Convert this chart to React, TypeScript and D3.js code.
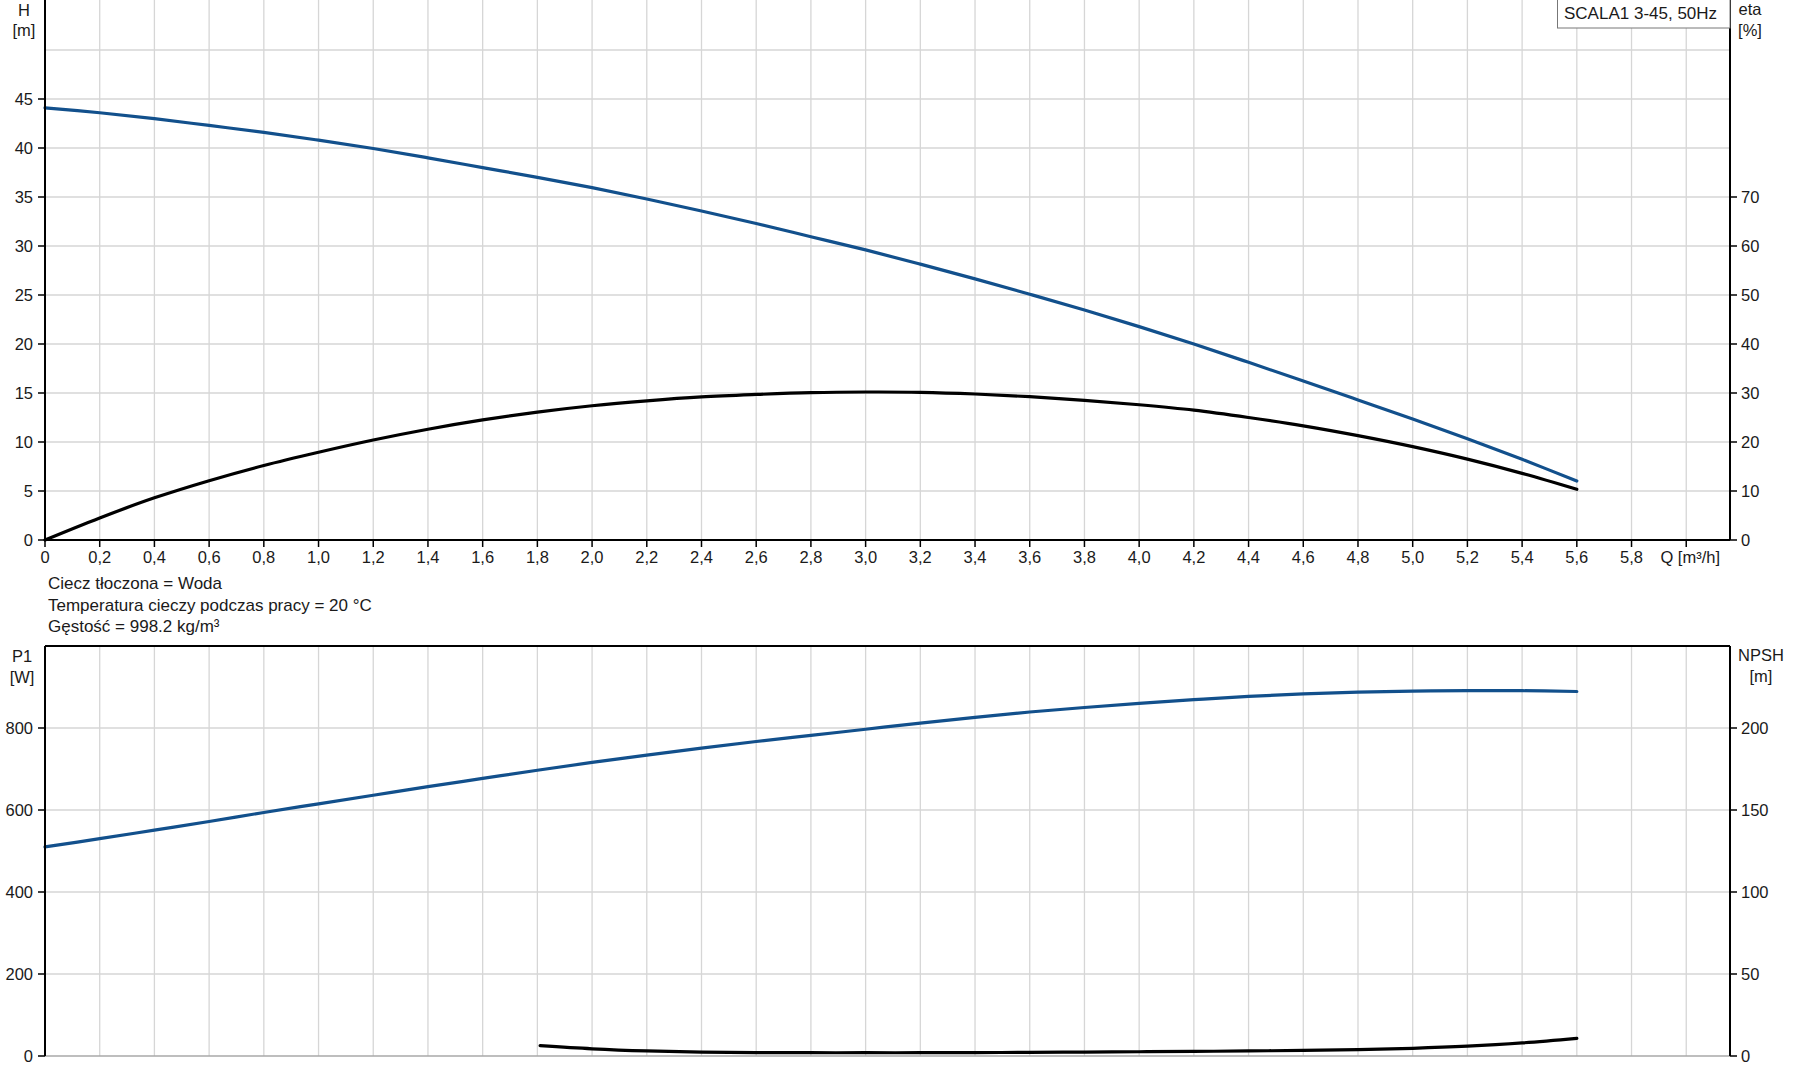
import React from "react";
import * as d3 from "d3";

// ---------- data ----------
const flowQ = [0, 0.2, 0.4, 0.6, 0.8, 1.0, 1.2, 1.4, 1.6, 1.8, 2.0, 2.2, 2.4, 2.6, 2.8, 3.0, 3.2, 3.4, 3.6, 3.8, 4.0, 4.2, 4.4, 4.6, 4.8, 5.0, 5.2, 5.4, 5.6];
const headH = [44.1, 43.6, 43.0, 42.3, 41.6, 40.8, 39.95, 39.0, 38.0, 37.0, 35.95, 34.8, 33.57, 32.3, 30.95, 29.6, 28.15, 26.65, 25.08, 23.47, 21.77, 20.0, 18.13, 16.22, 14.29, 12.35, 10.34, 8.23, 6.02];
const effEta = [0, 4.5, 8.6, 12.1, 15.2, 17.9, 20.4, 22.6, 24.5, 26.1, 27.4, 28.4, 29.2, 29.7, 30.07, 30.2, 30.14, 29.8, 29.25, 28.5, 27.6, 26.5, 25.0, 23.3, 21.3, 19.05, 16.5, 13.6, 10.35];
const powerP1 = [510, 530, 551, 572, 594, 615, 636, 657, 677, 697, 716, 734, 751, 767, 782, 797, 812, 826, 839, 850, 860, 869, 877, 883, 887.5, 890, 891, 891, 889];
const npshQ = [1.81, 2.0, 2.2, 2.4, 2.6, 2.8, 3.0, 3.2, 3.4, 3.6, 3.8, 4.0, 4.2, 4.4, 4.6, 4.8, 5.0, 5.2, 5.4, 5.6];
const npshVal = [6.3, 4.4, 3.1, 2.4, 2.1, 2.0, 2.0, 2.0, 2.1, 2.2, 2.4, 2.6, 2.8, 3.1, 3.4, 3.9, 4.7, 6.0, 8.0, 10.8];

const xTicks = [0, 0.2, 0.4, 0.6, 0.8, 1.0, 1.2, 1.4, 1.6, 1.8, 2.0, 2.2, 2.4, 2.6, 2.8, 3.0, 3.2, 3.4, 3.6, 3.8, 4.0, 4.2, 4.4, 4.6, 4.8, 5.0, 5.2, 5.4, 5.6, 5.8, 6.0];
const hTicks = [0, 5, 10, 15, 20, 25, 30, 35, 40, 45];
const hGrid = [5, 10, 15, 20, 25, 30, 35, 40, 45, 50];
const etaTicks = [0, 10, 20, 30, 40, 50, 60, 70];
const pTicks = [0, 200, 400, 600, 800];
const pGrid = [200, 400, 600, 800];
const npshTicks = [0, 50, 100, 150, 200];

const infoLines = [
  "Ciecz tłoczona = Woda",
  "Temperatura cieczy podczas pracy = 20 °C",
  "Gęstość = 998.2 kg/m³",
];
const titleText = "SCALA1 3-45, 50Hz";

// ---------- styles ----------
const FONT = "'Liberation Sans', Arial, sans-serif";
const FS = 16.5;
const TXT = "#1a1a1a";
const GRID = "#d6d6d6";
const BLUE = "#12508c";
const BLACK = "#000000";

export default function App() {
  const L = 45, R = 1730;
  const top1 = 1, bot1 = 540;
  const top2 = 646, bot2 = 1056;

  const x = d3.scaleLinear().domain([0, 6.16]).range([L, R]);
  const yH = d3.scaleLinear().domain([0, 55]).range([bot1, top1]);
  const yEta = d3.scaleLinear().domain([0, 110]).range([bot1, top1]);
  const yP = d3.scaleLinear().domain([0, 1000]).range([bot2, top2]);
  const yN = d3.scaleLinear().domain([0, 250]).range([bot2, top2]);

  const curve = d3.curveCatmullRom.alpha(0.5);
  const mk = (ys: number[], yS: d3.ScaleLinear<number, number>, xs: number[]) =>
    d3.line<number>().x((_, i) => x(xs[i])).y((d) => yS(d)).curve(curve)(ys) || "";

  const fmt = (v: number) => (v === 0 ? "0" : v.toFixed(1).replace(".", ","));
  const gridX = xTicks.filter((v) => v > 0);

  return (
    <svg
      width={1795}
      height={1081}
      style={{ position: "absolute", left: 0, top: 0, background: "#fff" }}
      fontFamily={FONT}
      fontSize={FS}
    >
      <rect x={0} y={0} width={1795} height={1081} fill="#fff" />

      {/* ---------- top chart grid ---------- */}
      {gridX.map((v) => (
        <line key={"vg1" + v} x1={x(v)} x2={x(v)} y1={0} y2={bot1} stroke={GRID} strokeWidth={1.3} />
      ))}
      {hGrid.map((v) => (
        <line key={"hg1" + v} x1={L} x2={R} y1={yH(v)} y2={yH(v)} stroke={GRID} strokeWidth={1.3} />
      ))}

      {/* ---------- bottom chart grid ---------- */}
      {gridX.map((v) => (
        <line key={"vg2" + v} x1={x(v)} x2={x(v)} y1={top2} y2={bot2} stroke={GRID} strokeWidth={1.3} />
      ))}
      {pGrid.map((v) => (
        <line key={"hg2" + v} x1={L} x2={R} y1={yP(v)} y2={yP(v)} stroke={GRID} strokeWidth={1.3} />
      ))}
      <line x1={L} x2={R} y1={bot2} y2={bot2} stroke="#a8a8a8" strokeWidth={1.5} />

      {/* ---------- curves ---------- */}
      <path d={mk(effEta, yEta, flowQ)} fill="none" stroke={BLACK} strokeWidth={3.2} strokeLinecap="round" />
      <path d={mk(headH, yH, flowQ)} fill="none" stroke={BLUE} strokeWidth={3.2} strokeLinecap="round" />
      <path d={mk(powerP1, yP, flowQ)} fill="none" stroke={BLUE} strokeWidth={3.2} strokeLinecap="round" />
      <path d={mk(npshVal, yN, npshQ)} fill="none" stroke={BLACK} strokeWidth={3.2} strokeLinecap="round" />

      {/* ---------- top chart axes ---------- */}
      <line x1={L} x2={L} y1={0} y2={bot1} stroke="#000" strokeWidth={2} />
      <line x1={R} x2={R} y1={0} y2={bot1} stroke="#000" strokeWidth={2} />
      <line x1={L} x2={R} y1={bot1} y2={bot1} stroke="#000" strokeWidth={2} />
      {hTicks.map((v) => (
        <g key={"ht" + v}>
          <line x1={L - 7} x2={L} y1={yH(v)} y2={yH(v)} stroke="#000" strokeWidth={1.5} />
          <text x={33} y={yH(v) + 6} textAnchor="end" fill={TXT}>{v}</text>
        </g>
      ))}
      {etaTicks.map((v) => (
        <g key={"et" + v}>
          <line x1={R} x2={R + 7} y1={yEta(v)} y2={yEta(v)} stroke="#000" strokeWidth={1.5} />
          <text x={1741} y={yEta(v) + 6} textAnchor="start" fill={TXT}>{v}</text>
        </g>
      ))}
      {xTicks.map((v) => (
        <g key={"xt" + v}>
          <line x1={x(v)} x2={x(v)} y1={bot1} y2={bot1 + 7} stroke="#000" strokeWidth={1.5} />
          {v < 5.9 ? (
            <text x={x(v)} y={563} textAnchor="middle" fill={TXT}>{fmt(v)}</text>
          ) : (
            <text x={x(v) + 4} y={563} textAnchor="middle" fill={TXT}>Q [m³/h]</text>
          )}
        </g>
      ))}
      <text x={24} y={16} textAnchor="middle" fill={TXT}>H</text>
      <text x={24} y={36} textAnchor="middle" fill={TXT}>[m]</text>
      <text x={1750} y={15} textAnchor="middle" fill={TXT}>eta</text>
      <text x={1750} y={36} textAnchor="middle" fill={TXT}>[%]</text>

      {/* title box */}
      <rect x={1557.5} y={-1} width={R - 1557.5} height={29} fill="#fff" stroke="#777" strokeWidth={1} />
      <text x={1564} y={19} fill={TXT} fontSize={17}>{titleText}</text>

      {/* info lines */}
      {infoLines.map((t, i) => (
        <text key={"info" + i} x={48} y={589 + i * 21.5} fill={TXT} fontSize={17}>{t}</text>
      ))}

      {/* ---------- bottom chart axes ---------- */}
      <line x1={L} x2={R} y1={top2} y2={top2} stroke="#000" strokeWidth={2} />
      <line x1={L} x2={L} y1={top2} y2={bot2} stroke="#000" strokeWidth={2} />
      <line x1={R} x2={R} y1={top2} y2={bot2} stroke="#000" strokeWidth={2} />
      {pTicks.map((v) => (
        <g key={"pt" + v}>
          <line x1={L - 7} x2={L} y1={yP(v)} y2={yP(v)} stroke="#000" strokeWidth={1.5} />
          <text x={33} y={yP(v) + 6} textAnchor="end" fill={TXT}>{v}</text>
        </g>
      ))}
      {npshTicks.map((v) => (
        <g key={"nt" + v}>
          <line x1={R} x2={R + 7} y1={yN(v)} y2={yN(v)} stroke="#000" strokeWidth={1.5} />
          <text x={1741} y={yN(v) + 6} textAnchor="start" fill={TXT}>{v}</text>
        </g>
      ))}
      <text x={22} y={662} textAnchor="middle" fill={TXT}>P1</text>
      <text x={22} y={683} textAnchor="middle" fill={TXT}>[W]</text>
      <text x={1761} y={661} textAnchor="middle" fill={TXT}>NPSH</text>
      <text x={1761} y={682} textAnchor="middle" fill={TXT}>[m]</text>
    </svg>
  );
}
